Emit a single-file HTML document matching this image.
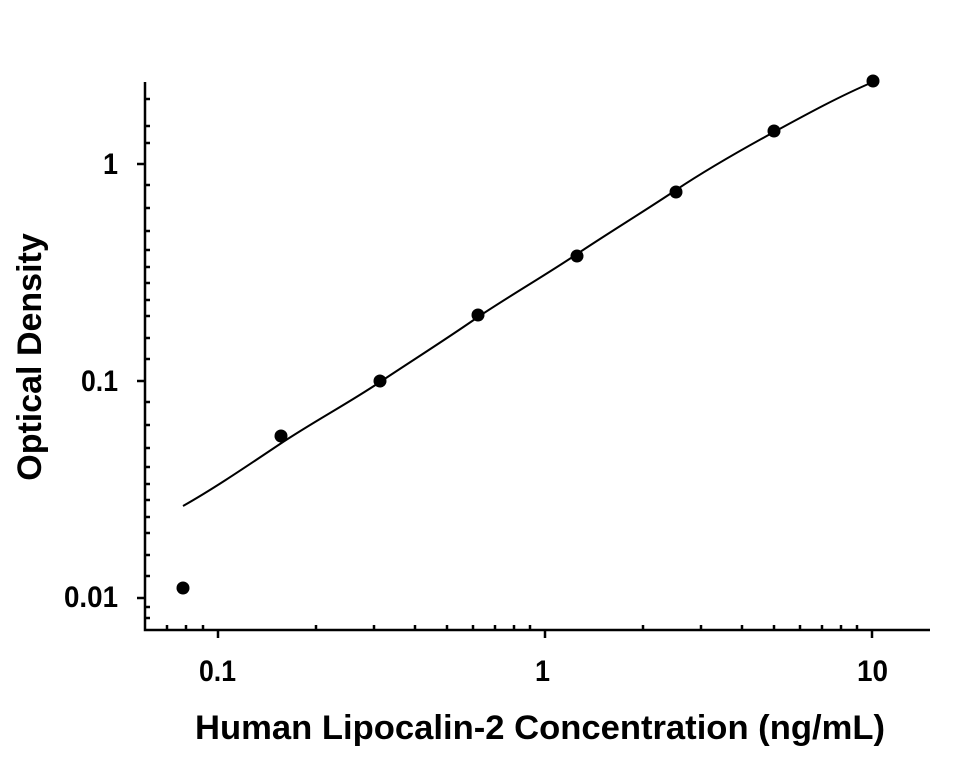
<!DOCTYPE html>
<html><head><style>body{margin:0;background:#fff}</style></head><body>
<svg width="971" height="752" xmlns="http://www.w3.org/2000/svg" font-family="Liberation Sans, Arial, sans-serif" font-weight="bold">
<g stroke="#000" stroke-width="2.5" fill="none">
<path d="M145,82 V630 H930"/>
<path d="M218,630v8 M545,630v8 M872,630v8"/>
<path d="M167,630v-5 M186,630v-5 M203,630v-5 M316,630v-5 M374,630v-5 M415,630v-5 M447,630v-5 M473,630v-5 M495,630v-5 M514,630v-5 M530,630v-5 M643,630v-5 M701,630v-5 M742,630v-5 M774,630v-5 M800,630v-5 M822,630v-5 M841,630v-5 M857,630v-5"/>
<path d="M145,164h-8 M145,381h-8 M145,598h-8"/>
<path d="M145,99h5 M145,402h5 M145,425h5 M145,448h5 M145,467h5 M145,484h5 M145,500h5 M145,517h5 M145,533h5 M145,555h5 M145,576h5 M145,607h5 M145,618h5 M145,185h5 M145,208h5 M145,231h5 M145,250h5 M145,267h5 M145,283h5 M145,300h5 M145,316h5 M145,338h5 M145,359h5 M145,143h5 M145,126h5"/>
<path stroke-width="2" d="M183,506 C215,488 250,464 280,444 C313,422 347,404 380,382 C413,360 445,340 478,317 C511,295 544,276 577,254 C610,232 643,212 676,190 C709,168 741,150 774,132 C807,114 840,96 873,82"/>
</g>
<g fill="#000">
<circle cx="183" cy="588" r="6.5"/><circle cx="281" cy="436" r="6.5"/><circle cx="380" cy="381" r="6.5"/><circle cx="478" cy="315" r="6.5"/><circle cx="577" cy="256" r="6.5"/><circle cx="676" cy="192" r="6.5"/><circle cx="774" cy="131" r="6.5"/><circle cx="873" cy="81" r="6.5"/>
</g>
<g font-size="30">
<text x="199" y="681" textLength="37" lengthAdjust="spacingAndGlyphs">0.1</text>
<text x="535" y="681" textLength="15" lengthAdjust="spacingAndGlyphs">1</text>
<text x="857" y="681" textLength="31" lengthAdjust="spacingAndGlyphs">10</text>
<text x="103" y="174" textLength="15" lengthAdjust="spacingAndGlyphs">1</text>
<text x="81" y="391" textLength="37" lengthAdjust="spacingAndGlyphs">0.1</text>
<text x="64" y="607" textLength="54" lengthAdjust="spacingAndGlyphs">0.01</text>
</g>
<text x="195" y="739" font-size="34" textLength="690" lengthAdjust="spacingAndGlyphs">Human Lipocalin-2 Concentration (ng/mL)</text>
<text transform="translate(41,357) rotate(-90)" font-size="34" text-anchor="middle">Optical Density</text>
</svg>
</body></html>
